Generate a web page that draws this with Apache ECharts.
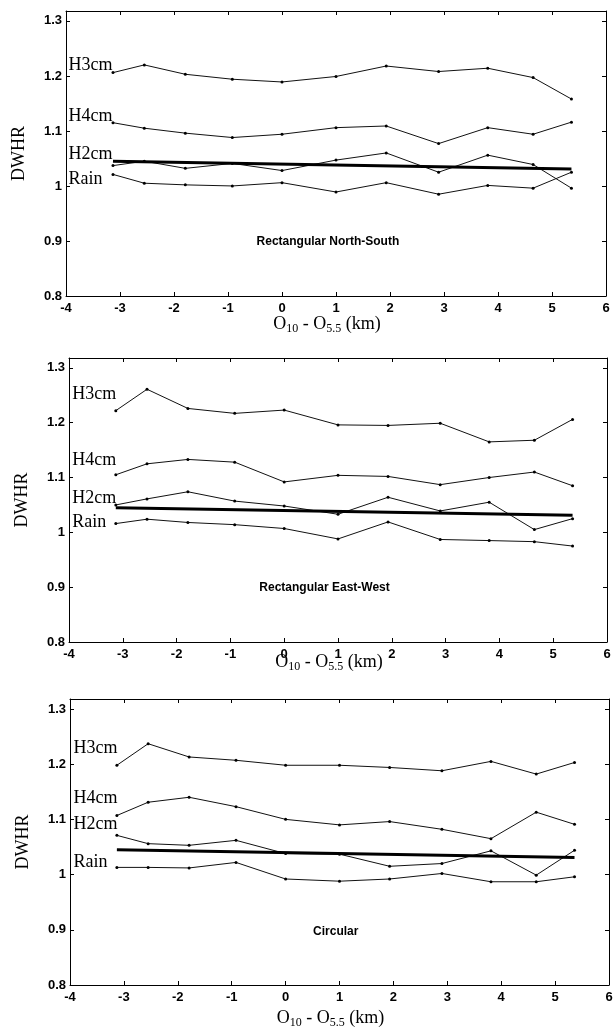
<!DOCTYPE html>
<html>
<head>
<meta charset="utf-8">
<script src="https://cdn.jsdelivr.net/npm/echarts@6/dist/echarts.min.js"></script>
<style>
  html, body { margin: 0; padding: 0; background: #fff; }
  #chart { width: 613px; height: 1029px; }
</style>
</head>
<body>
<div id="chart"></div>
<script>
// range offsets O10 - O5.5 (km), same for all three panels
const xKm = [-3.13, -2.55, -1.79, -0.92, 0, 1, 1.93, 2.9, 3.81, 4.65, 5.36]
const seriesNames = ['H3cm', 'H4cm', 'H2cm', 'Rain']

// Rectangular North-South
const nsH3cm = [1.206, 1.220, 1.203, 1.194, 1.189, 1.199, 1.218, 1.208, 1.214, 1.197, 1.158]
const nsH4cm = [1.115, 1.105, 1.096, 1.088, 1.094, 1.106, 1.109, 1.077, 1.106, 1.094, 1.116]
const nsH2cm = [1.037, 1.045, 1.032, 1.041, 1.028, 1.047, 1.060, 1.025, 1.056, 1.039, 0.996]
const nsRain = [1.021, 1.005, 1.002, 1.000, 1.006, 0.989, 1.006, 0.985, 1.001, 0.996, 1.025]

// Rectangular East-West
const ewH3cm = [1.222, 1.261, 1.226, 1.217, 1.223, 1.196, 1.195, 1.199, 1.165, 1.168, 1.206]
const ewH4cm = [1.105, 1.125, 1.133, 1.128, 1.092, 1.104, 1.102, 1.087, 1.100, 1.110, 1.085]
const ewH2cm = [1.050, 1.061, 1.074, 1.057, 1.048, 1.033, 1.064, 1.039, 1.055, 1.005, 1.025]
const ewRain = [1.016, 1.024, 1.018, 1.014, 1.007, 0.988, 1.019, 0.987, 0.985, 0.983, 0.975]

// Circular
const ciH3cm = [1.198, 1.237, 1.213, 1.207, 1.198, 1.198, 1.194, 1.188, 1.205, 1.182, 1.203]
const ciH4cm = [1.107, 1.131, 1.140, 1.123, 1.100, 1.090, 1.096, 1.082, 1.065, 1.113, 1.091]
const ciH2cm = [1.071, 1.056, 1.053, 1.062, 1.038, 1.037, 1.015, 1.020, 1.043, 0.999, 1.044]
const ciRain = [1.013, 1.013, 1.012, 1.022, 0.992, 0.988, 0.992, 1.002, 0.987, 0.987, 0.996]

// thick reference line
const trendX = [-3.13, 5.36]
const trendY = [1.045, 1.031]

const panelTitles = ['Rectangular North-South', 'Rectangular East-West', 'Circular']
const panelData = [
  [nsH3cm, nsH4cm, nsH2cm, nsRain],
  [ewH3cm, ewH4cm, ewH2cm, ewRain],
  [ciH3cm, ciH4cm, ciH2cm, ciRain],
]

// layout (pixels)
const grids = [
  { left: 66, top: 11, width: 540, height: 285, outerBoundsMode: 'none' },
  { left: 69, top: 358, width: 538, height: 284, outerBoundsMode: 'none' },
  { left: 70, top: 699, width: 539, height: 286, outerBoundsMode: 'none' },
]
const xNameGaps = [17, 9, 22]
const labelShiftX = [-43, -42, -42]
const labelOffsets = [
  [-7, -6, -11, 5],
  [-16, -15, -7, -1],
  [-17, -17, -11, -5],
]
const annotX = [0.85, 0.75, 0.93]
const annotY = [0.898, 0.899, 0.896]

const serif = 'Liberation Serif'
const sans = 'Liberation Sans'
const Y_MIN = 0.8
const Y_MAX = 1.318

const chart = echarts.init(document.getElementById('chart'))

const xAxes = []
const yAxes = []
const series = []
const titles = []

grids.forEach((g, i) => {
  const axisLine = { show: true, onZero: false, lineStyle: { color: '#000', width: 1 } }
  const tick = { show: true, inside: true, length: 4, lineStyle: { color: '#000', width: 1 } }
  const tickLabel = { color: '#000', fontFamily: sans, fontWeight: 'bold', fontSize: 13 }

  xAxes.push({
    gridIndex: i,
    type: 'value',
    min: -4,
    max: 6,
    interval: 1,
    axisLine,
    axisTick: tick,
    splitLine: { show: false },
    axisLabel: { ...tickLabel, margin: 6 },
    name: '{o|O}{s|10}{o| - O}{s|5.5}{o| (km)}',
    nameLocation: 'middle',
    nameGap: xNameGaps[i],
    nameMoveOverlap: false,
    nameTextStyle: {
      padding: [0, 18, 0, 0],
      rich: {
        o: { fontFamily: serif, fontSize: 18, color: '#000', lineHeight: 22 },
        s: { fontFamily: serif, fontSize: 12, color: '#000', lineHeight: 12, verticalAlign: 'bottom' },
      },
    },
  })
  xAxes.push({
    gridIndex: i,
    type: 'value',
    position: 'top',
    min: -4,
    max: 6,
    interval: 1,
    axisLine,
    axisTick: tick,
    axisLabel: { show: false },
    splitLine: { show: false },
  })
  yAxes.push({
    gridIndex: i,
    type: 'value',
    position: 'left',
    min: Y_MIN,
    max: Y_MAX,
    interval: 0.1,
    axisLine,
    axisTick: tick,
    splitLine: { show: false },
    axisLabel: {
      ...tickLabel,
      margin: 4,
      showMaxLabel: false,
      formatter: (v) => String(Math.round(v * 10) / 10),
    },
    name: 'DWHR',
    nameLocation: 'middle',
    nameGap: 38,
    nameMoveOverlap: false,
    nameTextStyle: { fontFamily: serif, fontSize: 18, color: '#000' },
  })
  yAxes.push({
    gridIndex: i,
    type: 'value',
    position: 'right',
    min: Y_MIN,
    max: Y_MAX,
    interval: 0.1,
    axisLine,
    axisTick: tick,
    axisLabel: { show: false },
    splitLine: { show: false },
  })

  panelData[i].forEach((vals, k) => {
    const data = vals.map((v, j) => {
      if (j > 0) return [xKm[j], v]
      return {
        value: [xKm[j], v],
        label: {
          show: true,
          position: 'left',
          distance: 0,
          align: 'left',
          offset: [labelShiftX[i], labelOffsets[i][k]],
          formatter: seriesNames[k],
          fontFamily: serif,
          fontSize: 18,
          color: '#000',
        },
      }
    })
    series.push({
      name: seriesNames[k],
      type: 'line',
      xAxisIndex: i * 2,
      yAxisIndex: i * 2,
      data,
      symbol: 'circle',
      symbolSize: 3,
      itemStyle: { color: '#000' },
      lineStyle: { color: '#111', width: 1 },
      animation: false,
      z: 3,
    })
  })

  series.push({
    type: 'line',
    xAxisIndex: i * 2,
    yAxisIndex: i * 2,
    data: trendX.map((x, j) => [x, trendY[j]]),
    symbol: 'none',
    lineStyle: { color: '#000', width: 3 },
    animation: false,
    z: 4,
  })

  // panel annotation placed from the axis scale
  const px = g.left + (annotX[i] + 4) / 10 * g.width
  const py = g.top + (Y_MAX - annotY[i]) / (Y_MAX - Y_MIN) * g.height
  titles.push({
    text: panelTitles[i],
    left: px,
    top: py,
    textAlign: 'center',
    textVerticalAlign: 'middle',
    padding: 0,
    textStyle: { fontFamily: sans, fontWeight: 'bold', fontSize: 12, color: '#000' },
  })
})

chart.setOption({
  backgroundColor: '#fff',
  animation: false,
  title: titles,
  grid: grids,
  xAxis: xAxes,
  yAxis: yAxes,
  series,
})
</script>
</body>
</html>
